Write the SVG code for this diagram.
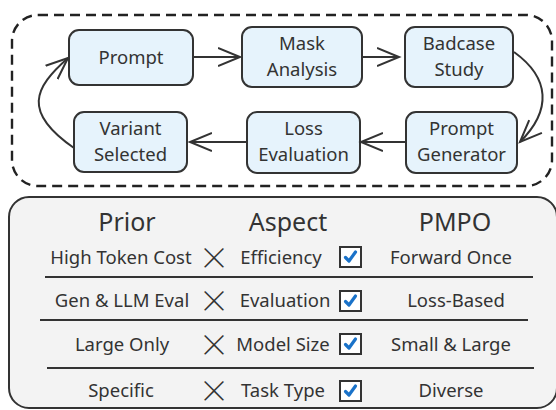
<svg xmlns="http://www.w3.org/2000/svg" width="556" height="410" viewBox="0 0 556 410">
<defs>
<style>
text{font-family:"Noto Sans","Open Sans",sans-serif;fill:#333;text-anchor:middle}
.node rect{fill:#e6f3fc;stroke:#333;stroke-width:2}
.nt{font-size:18.5px}
.hd{font-size:25px}
.rt{font-size:18.5px}
.x{font-family:"Noto Sans CJK SC",sans-serif;font-size:31px;font-weight:300}
.conn path{fill:none;stroke:#333;stroke-width:2}
.sep{stroke:#333;stroke-width:2}
.cb rect{fill:#fff;stroke:#333;stroke-width:2}
.cb path{fill:none;stroke:#1a72c9;stroke-width:3.2;stroke-linecap:round;stroke-linejoin:round}
</style>
<marker id="arr" markerUnits="userSpaceOnUse" markerWidth="26" markerHeight="24" refX="22" refY="10" orient="auto">
<path d="M0,1 L22,10 L0,19" fill="none" stroke="#333" stroke-width="2"/>
</marker>
</defs>
<rect id="loop-frame" x="12" y="15" width="540" height="171" rx="26" fill="none" stroke="#222" stroke-width="2.4" stroke-dasharray="10 6"/>
<g id="n-prompt" class="node"><rect x="69" y="30" width="124" height="55" rx="10"/><text class="nt" x="131" y="64">Prompt</text></g>
<g id="n-mask" class="node"><rect x="242" y="27" width="120" height="60" rx="10"/><text class="nt" x="302" y="50">Mask</text><text class="nt" x="302" y="76">Analysis</text></g>
<g id="n-badcase" class="node"><rect x="405" y="27" width="108" height="60" rx="10"/><text class="nt" x="459" y="50">Badcase</text><text class="nt" x="459" y="76">Study</text></g>
<g id="n-generator" class="node"><rect x="406" y="112" width="111" height="61" rx="10"/><text class="nt" x="461.5" y="135">Prompt</text><text class="nt" x="461.5" y="161">Generator</text></g>
<g id="n-loss" class="node"><rect x="247" y="112" width="113" height="61" rx="10"/><text class="nt" x="303.5" y="135">Loss</text><text class="nt" x="303.5" y="161">Evaluation</text></g>
<g id="n-variant" class="node"><rect x="74" y="112" width="113" height="60" rx="10"/><text class="nt" x="130.5" y="135">Variant</text><text class="nt" x="130.5" y="161">Selected</text></g>
<g id="connectors" class="conn">
<path d="M193,57 L240,57" marker-end="url(#arr)"/>
<path d="M362,57 L399,57" marker-end="url(#arr)"/>
<path d="M514,52 C550,78 552,110 520,142" marker-end="url(#arr)"/>
<path d="M406,142 L361,142" marker-end="url(#arr)"/>
<path d="M247,142 L190,142" marker-end="url(#arr)"/>
<path d="M74,148 C22,112 34,88 68,58" marker-end="url(#arr)"/>
</g>
<g id="comparison">
<rect x="9" y="197" width="548" height="211" rx="20" fill="#f3f3f3" stroke="#333" stroke-width="2"/>
<text class="hd" x="127" y="231">Prior</text>
<text class="hd" x="288" y="231">Aspect</text>
<text class="hd" x="455" y="231">PMPO</text>
<text class="rt" x="121" y="264">High Token Cost</text>
<text class="x" x="214" y="269">×</text>
<text class="rt" x="281" y="264">Efficiency</text>
<text class="rt" x="451" y="264">Forward Once</text>
<line class="sep" x1="45" y1="277" x2="533" y2="277"/>
<text class="rt" x="122" y="307">Gen &amp; LLM Eval</text>
<text class="x" x="214" y="312">×</text>
<text class="rt" x="285" y="307">Evaluation</text>
<text class="rt" x="456" y="307">Loss-Based</text>
<line class="sep" x1="40" y1="320" x2="528" y2="320"/>
<text class="rt" x="122" y="351">Large Only</text>
<text class="x" x="214" y="356">×</text>
<text class="rt" x="283" y="351">Model Size</text>
<text class="rt" x="451" y="351">Small &amp; Large</text>
<line class="sep" x1="47" y1="368" x2="534" y2="368"/>
<text class="rt" x="121" y="397">Specific</text>
<text class="x" x="214" y="402">×</text>
<text class="rt" x="283" y="397">Task Type</text>
<text class="rt" x="451" y="397">Diverse</text>
<g class="cb"><rect x="340" y="247" width="21" height="20"/><path d="M345.5,257.5 L349,261 L355.5,252"/></g>
<g class="cb"><rect x="340" y="291" width="21" height="20"/><path d="M345.5,301.5 L349,305 L355.5,296"/></g>
<g class="cb"><rect x="340" y="334" width="21" height="20"/><path d="M345.5,344.5 L349,348 L355.5,339"/></g>
<g class="cb"><rect x="340" y="381" width="21" height="20"/><path d="M345.5,391.5 L349,395 L355.5,386"/></g>
</g>
</svg>
